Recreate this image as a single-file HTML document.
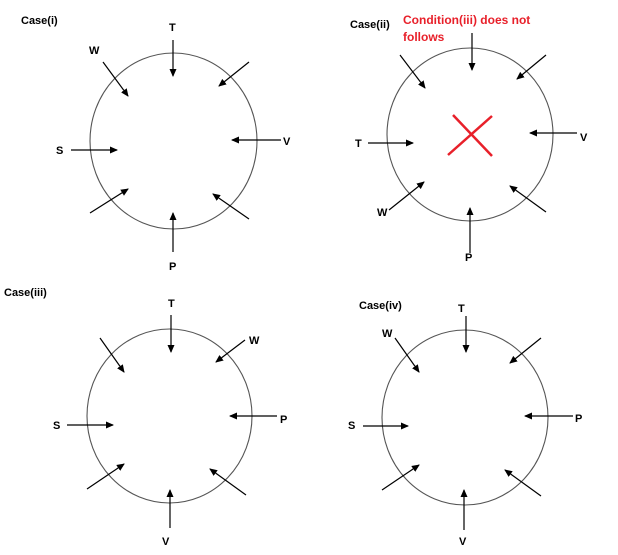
<!DOCTYPE html>
<html><head><meta charset="utf-8"><style>
html,body{margin:0;padding:0;background:#fff;}
svg{display:block;}
text{font-family:"Liberation Sans",sans-serif;font-weight:bold;font-size:11px;fill:#000;}
</style></head><body>
<svg width="618" height="555" viewBox="0 0 618 555" xmlns="http://www.w3.org/2000/svg">
<defs>
<marker id="a" markerWidth="8" markerHeight="8" refX="7" refY="4" orient="auto" markerUnits="userSpaceOnUse">
<path d="M0,0.5 L8,4 L0,7.5 Z" fill="#000"/></marker>
</defs>
<g fill="none" stroke="#555" stroke-width="1.1">
<ellipse cx="173.5" cy="141" rx="83.5" ry="88"/>
<ellipse cx="470" cy="134.5" rx="83" ry="86.5"/>
<ellipse cx="169.5" cy="416" rx="82.5" ry="87"/>
<ellipse cx="465" cy="417.5" rx="83" ry="87.5"/>
</g>
<g stroke="#000" stroke-width="1.2" marker-end="url(#a)">
<!-- case i -->
<line x1="173" y1="40" x2="173" y2="76"/>
<line x1="103" y1="62" x2="128" y2="96"/>
<line x1="249" y1="62" x2="219" y2="86"/>
<line x1="281" y1="140" x2="232" y2="140"/>
<line x1="71" y1="150" x2="117" y2="150"/>
<line x1="90" y1="213" x2="128" y2="189"/>
<line x1="249" y1="219" x2="213" y2="194"/>
<line x1="173" y1="252" x2="173" y2="213"/>
<!-- case ii -->
<line x1="472" y1="33" x2="472" y2="70"/>
<line x1="400" y1="55" x2="425" y2="88"/>
<line x1="546" y1="55" x2="517" y2="79"/>
<line x1="577" y1="133" x2="530" y2="133"/>
<line x1="368" y1="143" x2="413" y2="143"/>
<line x1="389" y1="210" x2="424" y2="182"/>
<line x1="546" y1="212" x2="510" y2="186"/>
<line x1="470" y1="253" x2="470" y2="208"/>
<!-- case iii -->
<line x1="171" y1="315" x2="171" y2="352"/>
<line x1="100" y1="338" x2="124" y2="372"/>
<line x1="245" y1="340" x2="216" y2="362"/>
<line x1="277" y1="416" x2="230" y2="416"/>
<line x1="67" y1="425" x2="113" y2="425"/>
<line x1="87" y1="489" x2="124" y2="464"/>
<line x1="246" y1="495" x2="210" y2="469"/>
<line x1="170" y1="528" x2="170" y2="490"/>
<!-- case iv -->
<line x1="466" y1="316" x2="466" y2="352"/>
<line x1="395" y1="338" x2="419" y2="372"/>
<line x1="541" y1="338" x2="510" y2="363"/>
<line x1="573" y1="416" x2="525" y2="416"/>
<line x1="363" y1="426" x2="408" y2="426"/>
<line x1="382" y1="490" x2="419" y2="465"/>
<line x1="541" y1="496" x2="505" y2="470"/>
<line x1="464" y1="530" x2="464" y2="490"/>
</g>
<g stroke="#e8202a" stroke-width="2.5">
<line x1="453" y1="115" x2="492" y2="156"/>
<line x1="448" y1="155" x2="492" y2="116"/>
</g>
<text x="21" y="24">Case(i)</text>
<text x="169" y="31">T</text>
<text x="89" y="54">W</text>
<text x="283" y="145">V</text>
<text x="56" y="154">S</text>
<text x="169" y="270">P</text>

<text x="350" y="28">Case(ii)</text>
<text x="403" y="24" style="fill:#e8202a;font-size:12px">Condition(iii) does not</text>
<text x="403" y="41" style="fill:#e8202a;font-size:12px">follows</text>
<text x="580" y="141">V</text>
<text x="355" y="147">T</text>
<text x="377" y="216">W</text>
<text x="465" y="261">P</text>

<text x="4" y="296">Case(iii)</text>
<text x="168" y="307">T</text>
<text x="249" y="344">W</text>
<text x="280" y="423">P</text>
<text x="53" y="429">S</text>
<text x="162" y="545">V</text>

<text x="359" y="309">Case(iv)</text>
<text x="458" y="312">T</text>
<text x="382" y="337">W</text>
<text x="575" y="422">P</text>
<text x="348" y="429">S</text>
<text x="459" y="545">V</text>
</svg>
</body></html>
